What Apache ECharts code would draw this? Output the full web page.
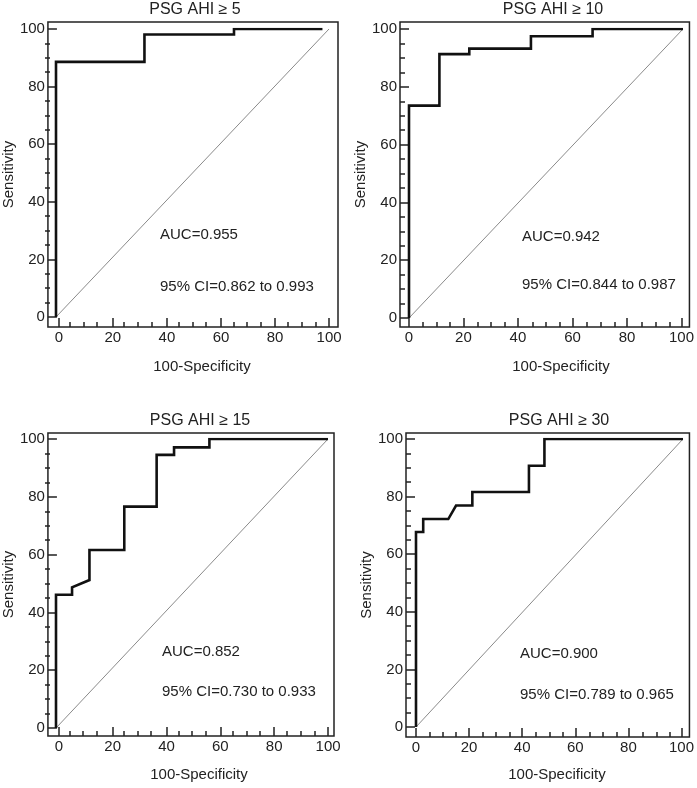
<!DOCTYPE html>
<html>
<head>
<meta charset="utf-8">
<script src="https://cdn.jsdelivr.net/npm/echarts@6/dist/echarts.min.js"></script>
<style>
html,body{margin:0;padding:0;background:#fff;}
#chart{width:697px;height:788px;}
</style>
</head>
<body>
<div id="chart"></div>
<script>
// ---- Data ----
const panelTitles = ['PSG AHI ≥ 5', 'PSG AHI ≥ 10', 'PSG AHI ≥ 15', 'PSG AHI ≥ 30'];
const aucTexts = ['AUC=0.955', 'AUC=0.942', 'AUC=0.852', 'AUC=0.900'];
const ciTexts = ['95% CI=0.862 to 0.993', '95% CI=0.844 to 0.987', '95% CI=0.730 to 0.933', '95% CI=0.789 to 0.965'];
const xTicks = [0, 20, 40, 60, 80, 100];
const yTicks = [0, 20, 40, 60, 80, 100];
const xMinorTicks = [5, 10, 15, 25, 30, 35, 45, 50, 55, 65, 70, 75, 85, 90, 95];
const yMinorTicks = [5, 10, 15, 25, 30, 35, 45, 50, 55, 65, 70, 75, 85, 90, 95];
const xAxisName = '100-Specificity';
const yAxisName = 'Sensitivity';

// ROC curves: x = 100-Specificity, y = Sensitivity
const roc5X  = [0, 0,    32.4, 32.4, 65.2, 65.2, 97.6];
const roc5Y  = [0, 88.6, 88.6, 98.1, 98.1, 100,  100];
const roc10X = [0, 0,    11.1, 11.1, 22.0, 22.0, 44.5, 44.5, 67.0, 67.0, 100];
const roc10Y = [0, 73.5, 73.5, 91.3, 91.3, 93.2, 93.2, 97.5, 97.5, 100,  100];
const roc15X = [0, 0,    5.9,  5.9,  12.3, 12.3, 25.1, 25.1, 37.0, 37.0, 43.4, 43.4, 56.4, 56.4, 100];
const roc15Y = [0, 46.1, 46.1, 48.7, 51.2, 61.6, 61.6, 76.6, 76.6, 94.5, 94.5, 97.1, 97.1, 100,  100];
const roc30X = [0, 0,    2.7,  2.7,  12.1, 15.0, 21.1, 21.1, 42.3, 42.3, 48.1, 48.1, 100];
const roc30Y = [0, 67.7, 67.7, 72.2, 72.2, 76.9, 76.9, 81.6, 81.6, 90.7, 90.7, 100,  100];
const diagX = [0, 100];
const diagY = [0, 100];

const rocX = [roc5X, roc10X, roc15X, roc30X];
const rocY = [roc5Y, roc10Y, roc15Y, roc30Y];

// ---- Layout (pixels) ----
const layout = [
  {data:[56, 29, 329, 317], frame:[45, 22, 338, 327], titleC:[195, 10],  nameC:[202, 367], auc:[160, 235], ci:[160, 287]},
  {data:[409, 29, 683, 318], frame:[400, 22, 691, 327], titleC:[553, 10], nameC:[561, 367], auc:[522, 237], ci:[522, 285]},
  {data:[56, 439, 328, 728], frame:[45, 433, 334, 736], titleC:[200, 421], nameC:[199, 775], auc:[162, 652], ci:[162, 692]},
  {data:[416, 439, 683, 727], frame:[406, 433, 691, 737], titleC:[559, 421], nameC:[557, 775], auc:[520, 654], ci:[520, 695]}
];

const FONT = "'Liberation Sans', Arial, sans-serif";
const TXT = '#222';
const FS = 15;

const zip = (xs, ys) => xs.map((x, i) => [x, ys[i]]);

const grid = [], xAxis = [], yAxis = [], series = [], title = [];
const xLo = xTicks[0], xHi = xTicks[xTicks.length - 1];
const yLo = yTicks[0], yHi = yTicks[yTicks.length - 1];

layout.forEach((L, p) => {
  const [dl, dt, dr, db] = L.data;
  const [fl, ft, fr, fb] = L.frame;
  // frame extents expressed in data units (derived from the two rectangles)
  const ux = (xHi - xLo) / (dr - dl), uy = (yHi - yLo) / (db - dt);
  const fxMin = xLo - (dl - fl) * ux, fxMax = xHi + (fr - dr) * ux;
  const fyMin = yLo - (fb - db) * uy, fyMax = yHi + (dt - ft) * uy;

  const gData = grid.length;
  grid.push({left: dl, top: dt, width: dr - dl, height: db - dt});
  const gMajor = grid.length;
  grid.push({left: fl, top: ft, width: fr - fl, height: fb - ft, show: true,
             borderColor: '#222', borderWidth: 1.5, backgroundColor: 'transparent'});
  const gMinor = grid.length;
  grid.push({left: fl, top: ft, width: fr - fl, height: fb - ft});

  const tickStyle = {color: '#222', width: 1.5};
  const labelStyle = {color: TXT, fontSize: FS, fontFamily: FONT, margin: 3};
  const noLine = {show: false, onZero: false};

  // data axes (hidden; scale for the curves)
  const axData = xAxis.length;
  xAxis.push({type: 'value', gridIndex: gData, min: xLo, max: xHi, show: false, axisLine: noLine});
  yAxis.push({type: 'value', gridIndex: gData, min: yLo, max: yHi, show: false, axisLine: noLine});
  // major ticks + labels on the frame
  xAxis.push({
    type: 'value', gridIndex: gMajor, min: fxMin, max: fxMax, position: 'bottom',
    axisLine: noLine,
    axisTick: {show: true, inside: true, length: 9, lineStyle: tickStyle, customValues: xTicks},
    axisLabel: Object.assign({customValues: xTicks}, labelStyle),
    splitLine: {show: false}
  });
  yAxis.push({
    type: 'value', gridIndex: gMajor, min: fyMin, max: fyMax, position: 'left',
    name: yAxisName, nameLocation: 'middle', nameGap: 26,
    nameTextStyle: {color: TXT, fontSize: FS, fontFamily: FONT},
    axisLine: noLine,
    axisTick: {show: true, inside: true, length: 9, lineStyle: tickStyle, customValues: yTicks},
    axisLabel: Object.assign({customValues: yTicks}, labelStyle),
    splitLine: {show: false}
  });
  // minor ticks on the frame
  xAxis.push({
    type: 'value', gridIndex: gMinor, min: fxMin, max: fxMax, position: 'bottom',
    axisLine: noLine,
    axisTick: {show: true, inside: true, length: 5, lineStyle: tickStyle, customValues: xMinorTicks},
    axisLabel: {show: false}, splitLine: {show: false}
  });
  yAxis.push({
    type: 'value', gridIndex: gMinor, min: fyMin, max: fyMax, position: 'left',
    axisLine: noLine,
    axisTick: {show: true, inside: true, length: 5, lineStyle: tickStyle, customValues: yMinorTicks},
    axisLabel: {show: false}, splitLine: {show: false}
  });

  // diagonal reference line
  series.push({
    type: 'line', xAxisIndex: axData, yAxisIndex: axData, data: zip(diagX, diagY),
    symbol: 'none', silent: true, lineStyle: {color: '#8a8a8a', width: 1}, z: 2
  });
  // ROC curve
  series.push({
    type: 'line', xAxisIndex: axData, yAxisIndex: axData, data: zip(rocX[p], rocY[p]),
    symbol: 'none', silent: true, lineStyle: {color: '#111', width: 2.6, join: 'miter', cap: 'butt'}, z: 3
  });

  const tStyle = {color: TXT, fontSize: FS, fontFamily: FONT, fontWeight: 'normal', lineHeight: 18};
  title.push({text: panelTitles[p], left: L.titleC[0], top: L.titleC[1] - 9, textAlign: 'center', padding: 0,
              textStyle: Object.assign({}, tStyle, {fontSize: 16})});
  title.push({text: xAxisName, left: L.nameC[0], top: L.nameC[1] - 9, textAlign: 'center', padding: 0, textStyle: tStyle});
  title.push({text: aucTexts[p], left: L.auc[0], top: L.auc[1] - 9, padding: 0, textStyle: tStyle});
  title.push({text: ciTexts[p], left: L.ci[0], top: L.ci[1] - 9, padding: 0, textStyle: tStyle});
});

const chart = echarts.init(document.getElementById('chart'), null, {renderer: 'canvas'});
chart.setOption({
  animation: false,
  backgroundColor: '#fff',
  title, grid, xAxis, yAxis, series
});
</script>
</body>
</html>
